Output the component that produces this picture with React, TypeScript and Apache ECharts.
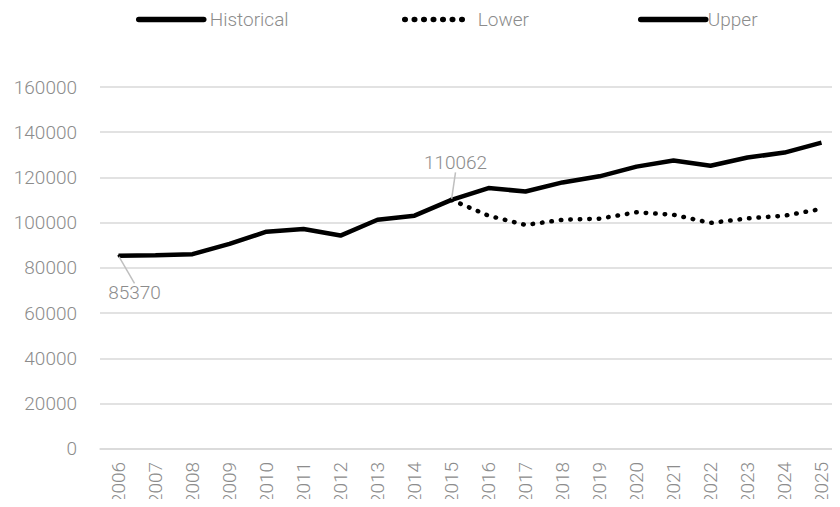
import React, { useEffect, useRef } from "react";
import * as echarts from "echarts";

const years = [
  "2006", "2007", "2008", "2009", "2010", "2011", "2012", "2013", "2014", "2015",
  "2016", "2017", "2018", "2019", "2020", "2021", "2022", "2023", "2024", "2025",
];

const historical = [85370, 85600, 86100, 90600, 96000, 97200, 94300, 101300, 103100, 110062];

const lowerForecast = [110062, 103100, 99000, 101300, 101800, 104600, 103500, 99900, 101900, 103100, 106100];

const upperForecast = [110062, 115300, 113800, 117800, 120500, 124800, 127500, 125200, 128800, 131000, 135400];

const yTicks = { min: 0, max: 160000, interval: 20000 };

const FONT = "Roboto";
const TEXT = "#8c8c8c";

const forecastStart = historical.length - 1;

function pad(values: number[], before: number): (number | null)[] {
  const out: (number | null)[] = [];
  for (let i = 0; i < before; i++) out.push(null);
  return out.concat(values);
}

export default function App() {
  const ref = useRef<HTMLDivElement>(null);

  useEffect(() => {
    if (!ref.current) return;
    const chart = echarts.init(ref.current, undefined, { renderer: "svg" });

    // first and last historical points carry a value callout with a leader line
    const lastHist = historical.length - 1;
    const histData: any[] = historical.map((v, i) =>
      i === 0 || i === lastHist ? { value: v, label: { show: true }, labelLine: { show: true } } : v
    );

    const legendText = { fontFamily: FONT, fontWeight: 300, fontSize: 19, color: TEXT };
    const legendBase = {
      top: 10,
      padding: 0,
      itemHeight: 20,
      itemWidth: 65,
      itemStyle: { opacity: 0 },
      lineStyle: { width: 5.5, cap: "round" },
      textStyle: legendText,
    };

    chart.setOption({
      animation: false,
      backgroundColor: "#ffffff",
      textStyle: { fontFamily: FONT },
      legend: [
        { ...legendBase, data: ["Historical"], left: 136, textStyle: { ...legendText, padding: [0, 0, 0, 1] } },
        { ...legendBase, data: ["Lower"], left: 402, itemWidth: 62, textStyle: { ...legendText, padding: [0, 0, 0, 6] } },
        { ...legendBase, data: ["Upper"], left: 638, textStyle: { ...legendText, padding: [0, 0, 0, -3] } },
      ],
      grid: { left: 100, top: 87, bottom: 57, width: 748, containLabel: false },
      xAxis: {
        type: "category",
        data: years,
        boundaryGap: true,
        axisLine: { show: true, lineStyle: { color: "#d9d9d9", width: 1.5 } },
        axisTick: { show: false },
        axisLabel: {
          rotate: 90,
          interval: 0,
          margin: 13,
          fontFamily: FONT,
          fontWeight: 300,
          fontSize: 19,
          color: TEXT,
        },
      },
      yAxis: {
        type: "value",
        min: yTicks.min,
        max: yTicks.max,
        interval: yTicks.interval,
        axisLine: { show: false },
        axisTick: { show: false },
        splitLine: { lineStyle: { color: "#d9d9d9", width: 1.5 } },
        axisLabel: {
          margin: 23,
          formatter: (v: number) => String(v),
          fontFamily: FONT,
          fontWeight: 300,
          fontSize: 19,
          color: TEXT,
        },
      },
      series: [
        {
          name: "Lower",
          type: "line",
          data: pad(lowerForecast, forecastStart),
          showSymbol: false,
          symbol: "none",
          z: 2,
          lineStyle: { color: "#000000", width: 4.5, type: [0.5, 9], cap: "round" },
          itemStyle: { color: "#000000" },
        },
        {
          name: "Upper",
          type: "line",
          data: pad(upperForecast, forecastStart),
          showSymbol: false,
          symbol: "none",
          z: 3,
          lineStyle: { color: "#000000", width: 4.5 },
          itemStyle: { color: "#000000" },
        },
        {
          name: "Historical",
          type: "line",
          data: histData,
          showSymbol: true,
          symbol: "circle",
          symbolSize: 2,
          z: 4,
          lineStyle: { color: "#000000", width: 4.5 },
          itemStyle: { color: "#000000" },
          label: {
            show: false,
            position: "inside",
            fontFamily: FONT,
            fontWeight: 300,
            fontSize: 19,
            color: TEXT,
          },
          labelLayout: (p: any) =>
            p.dataIndex === 0 ? { dx: 16, dy: 37 } : { dx: 4, dy: -37 },
          labelLine: { lineStyle: { color: "#bfbfbf", width: 1.5 } },
        },
      ],
    });

    return () => chart.dispose();
  }, []);

  return <div ref={ref} style={{ width: 840, height: 507, margin: -8 }} />;
}
